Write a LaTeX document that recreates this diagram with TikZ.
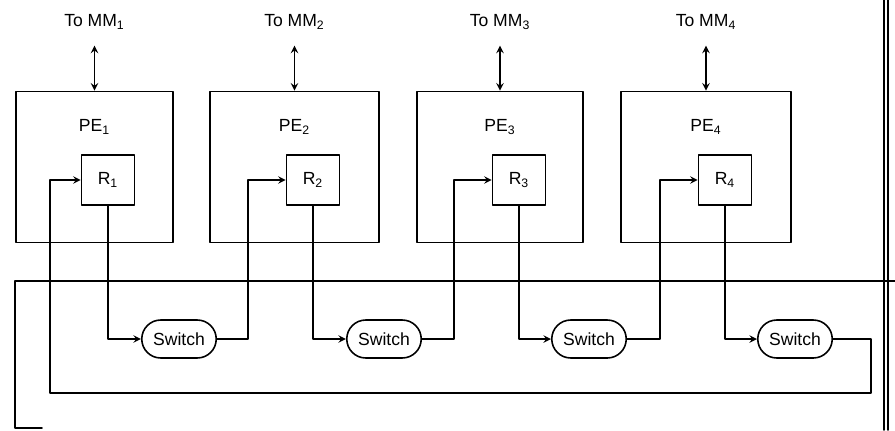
\documentclass[tikz,border=0pt]{standalone}
\usepackage{fontspec}
\setmainfont{Liberation Sans}
\usetikzlibrary{shapes.misc}
\begin{document}
\begin{tikzpicture}[x=0.02cm, y=-0.02cm, font=\fontsize{10}{12}\selectfont, line join=round, line cap=round, >=stealth, line width=0.9pt,
		pe/.style={draw, line width=1pt, minimum height=3.02cm, inner sep=0pt},
		reg/.style={draw, minimum width=1.06cm, minimum height=1cm},
		switch/.style={draw, rounded rectangle, minimum width=1.56cm, minimum height=0.76cm, inner sep=1pt}]
	\useasboundingbox (0,0) rectangle (895,430);
	\foreach \i/\cx/\w/\rx/\sx in {1/94.5/3.14cm/108/179, 2/294.5/3.38cm/313/384, 3/500/3.32cm/519/589, 4/706/3.4cm/725/795}{
		\node[pe, minimum width=\w] (pe\i) at (\cx,167) {};
		\node (pl\i) at (\cx,127) {PE\textsubscript{\i}};
		\node[reg] (r\i) at (\rx,180) {R\textsubscript{\i}};
		\node[switch] (sw\i) at (\sx,339) {Switch};
		\node (mm\i) at (\cx,22) {To MM\textsubscript{\i}};
		\path (pe\i.north) ++(0,-45) coordinate (mmend\i);
		\draw[<->] (mmend\i) -- (pe\i.north);
		\draw[->] (r\i.south) |- (sw\i.west);
	}
	\foreach \i/\j in {1/2,2/3,3/4}{
		\path (r\j.west) ++(-38,0) coordinate (in\j);
		\draw[->] (sw\i.east) -| (in\j) -- (r\j.west);
	}
	% ring back to R1
	\path (r1.west) ++(-31,0) coordinate (in1);
	\coordinate (ret) at (871,393);
	\draw[->] (sw4.east) -| (ret) -| (in1) -- (r1.west);
	% outer frame
	\draw (895,281) -- (15,281) -- (15,428) -- (42,428);
	\draw (884,0) -- (884,430) (888,0) -- (888,430);
\end{tikzpicture}
\end{document}
